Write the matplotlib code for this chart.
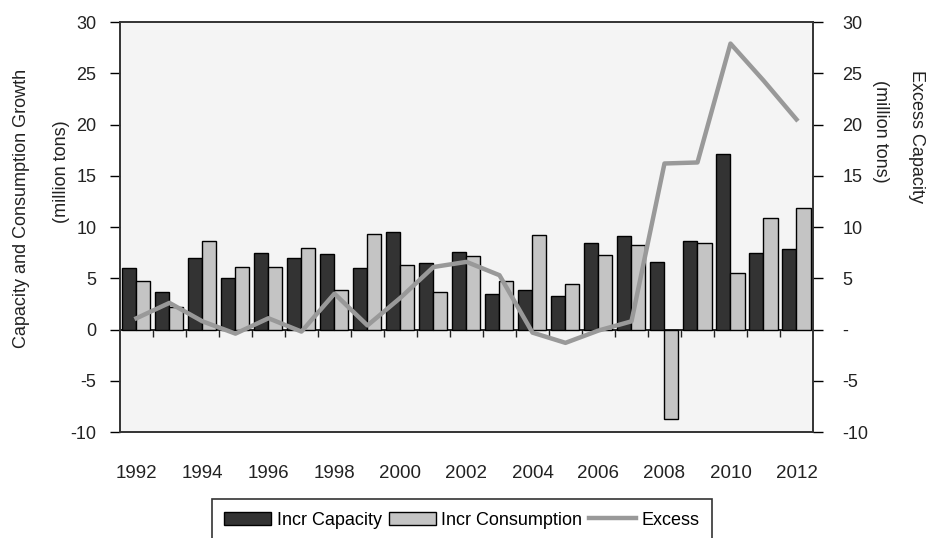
import numpy as np
import matplotlib
matplotlib.use("Agg")
import matplotlib.pyplot as plt
from matplotlib.patches import Patch
from matplotlib.lines import Line2D

plt.rcParams['font.family'] = ['Liberation Sans', 'DejaVu Sans']

years = list(range(1992, 2013))
# приросты мощности и потребления (млн т)
incr_capacity = [6.0, 3.7, 7.0, 5.0, 7.5, 7.0, 7.4, 6.0, 9.5, 6.5, 7.6,
                 3.5, 3.9, 3.3, 8.4, 9.1, 6.6, 8.6, 17.1, 7.5, 7.9]
incr_consumption = [4.7, 2.2, 8.6, 6.1, 6.1, 8.0, 3.9, 9.3, 6.3, 3.7, 7.2,
                    4.7, 9.2, 4.4, 7.3, 8.2, -8.7, 8.4, 5.5, 10.9, 11.9]
excess = [1.1, 2.6, 0.8, -0.4, 1.1, -0.2, 3.5, 0.4, 3.1, 6.1, 6.6,
          5.3, -0.3, -1.3, -0.1, 0.8, 16.2, 16.3, 27.9, 24.3, 20.5]

left_ticks = [-10, -5, 0, 5, 10, 15, 20, 25, 30]
left_labels = ["-10", "-5", "0", "5", "10", "15", "20", "25", "30"]
right_labels = ["-10", "-5", "-", "5", "10", "15", "20", "25", "30"]

FS = 13
x = np.arange(len(years))
w = 0.425

fig = plt.figure(figsize=(9.27, 5.38), dpi=100)
ax = fig.add_axes([0.1294, 0.197, 0.7476, 0.762])
ax.set_facecolor('#f4f4f4')

ax.bar(x - w / 2, incr_capacity, w, color='#333333', edgecolor='black', linewidth=1, zorder=2)
ax.bar(x + w / 2, incr_consumption, w, color='#c4c4c4', edgecolor='black', linewidth=1, zorder=2)

ax.set_xlim(-0.5, len(years) - 0.5)
ax.set_ylim(-10, 30)
ax.set_yticks(left_ticks)
ax.set_yticklabels(left_labels, fontsize=FS, color='#222222')
ax.tick_params(axis='y', direction='out', length=7, width=1, pad=10)
ax.set_xticks(x[::2])
ax.set_xticklabels([str(y) for y in years[::2]], fontsize=13.5, color='#222222')
ax.tick_params(axis='x', length=0, pad=24)
for s in ax.spines.values():
    s.set_color('#333333')
    s.set_linewidth(1.2)

# ось категорий на нуле с делениями между годами
sec = ax.secondary_xaxis(0.25)
sec.set_xticks(x[:-1] + 0.5)
sec.set_xticklabels([])
sec.tick_params(direction='out', length=5, width=1, colors='#222222')
sec.spines['bottom'].set_color('black')
sec.spines['bottom'].set_linewidth(1.2)

ax2 = ax.twinx()
ax2.plot(x, excess, color='#999999', linewidth=3.2, zorder=3)
ax2.set_ylim(-10, 30)
ax2.set_yticks(left_ticks)
ax2.set_yticklabels(right_labels, fontsize=FS, color='#222222')
ax2.tick_params(axis='y', direction='out', length=7, width=1, pad=14)
for s in ax2.spines.values():
    s.set_color('#333333')
    s.set_linewidth(1.2)

fig.text(22 / 927, 1 - 208 / 538, "Capacity and Consumption Growth", rotation=90,
         ha='center', va='center', fontsize=FS, color='#222222')
fig.text(62 / 927, 1 - 172 / 538, "(million tons)", rotation=90,
         ha='center', va='center', fontsize=FS, color='#222222')
fig.text(917 / 927, 1 - 137 / 538, "Excess Capacity", rotation=270,
         ha='center', va='center', fontsize=FS, color='#222222')
fig.text(880 / 927, 1 - 131 / 538, "(million tons)", rotation=270,
         ha='center', va='center', fontsize=FS, color='#222222')

handles = [Patch(facecolor='#333333', edgecolor='black'),
           Patch(facecolor='#c4c4c4', edgecolor='black'),
           Line2D([0], [0], color='#999999', linewidth=3.2)]
leg = fig.legend(handles, ["Incr Capacity", "Incr Consumption", "Excess"],
                 loc='upper center', bbox_to_anchor=(462 / 927, 1 - 499 / 538),
                 ncol=3, fontsize=FS, frameon=True, fancybox=False,
                 edgecolor='black', handlelength=2.6, handleheight=0.8,
                 handletextpad=0.3, columnspacing=0.4, borderpad=0.7,
                 borderaxespad=0)
leg.get_frame().set_linewidth(1.2)

fig.savefig("out.png", dpi=100)
